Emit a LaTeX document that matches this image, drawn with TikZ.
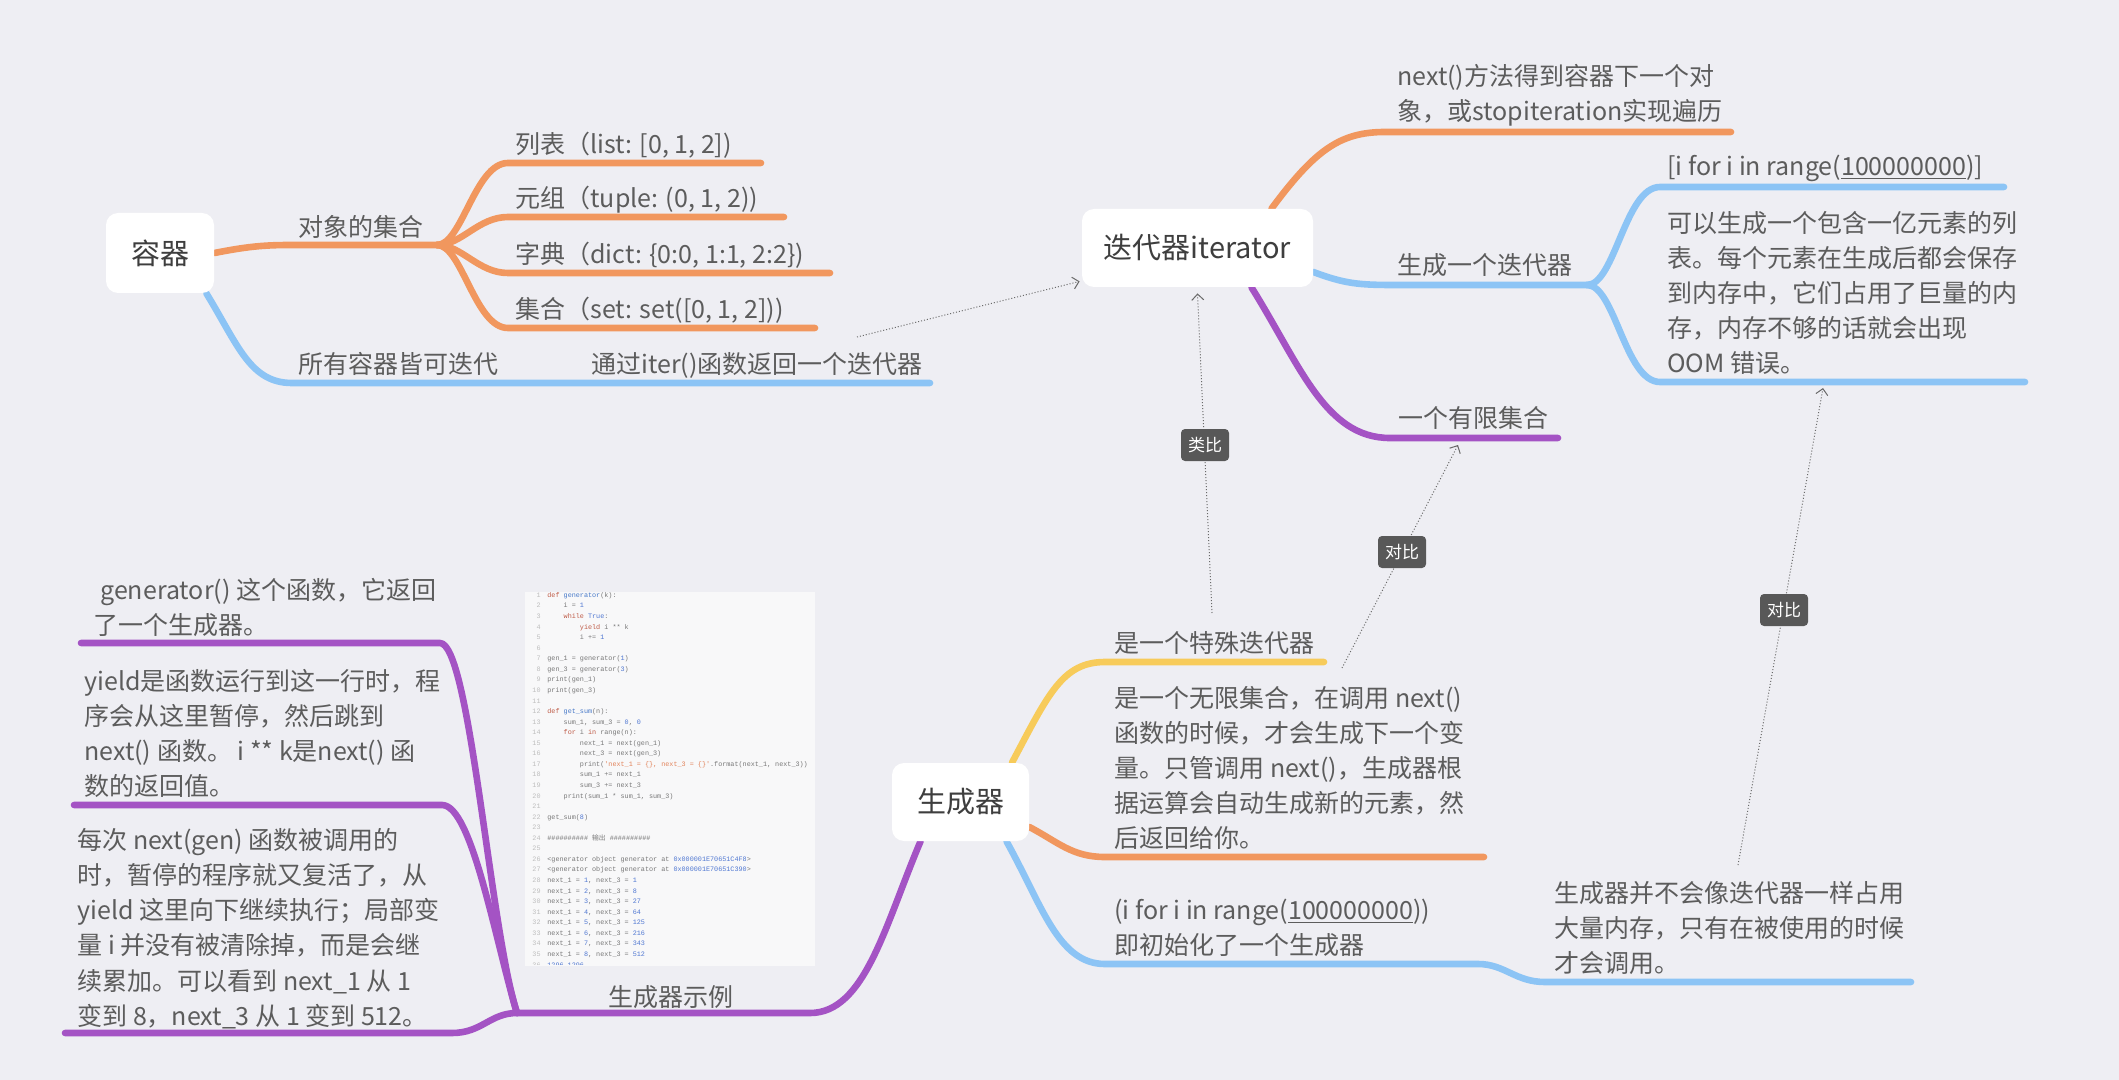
\documentclass[tikz,border=0pt]{standalone}
\usepackage{fontspec}
\setmainfont{Noto Sans CJK SC}
\newfontfamily\codefont{Liberation Mono}
\usetikzlibrary{arrows.meta}
\pgfdeclarelayer{bg}
\pgfsetlayers{bg,main}
\definecolor{bgc}{RGB}{238,238,243}
\definecolor{orc}{RGB}{241,151,94}
\definecolor{blc}{RGB}{140,196,245}
\definecolor{puc}{RGB}{164,83,196}
\definecolor{yec}{RGB}{247,203,90}
\definecolor{topicc}{RGB}{62,62,62}
\definecolor{txtc}{RGB}{92,92,92}
\definecolor{relc}{RGB}{105,105,105}
\definecolor{lblc}{RGB}{88,88,88}
\definecolor{codebg}{RGB}{248,248,249}
\definecolor{numc}{RGB}{190,190,190}
\definecolor{codec}{RGB}{120,120,120}
\definecolor{kwc}{RGB}{190,90,70}
\definecolor{fnc}{RGB}{70,120,200}
\definecolor{nmc}{RGB}{80,120,210}
\definecolor{stc}{RGB}{226,131,90}
\newcommand\kw[1]{\textcolor{kwc}{#1}}
\newcommand\fn[1]{\textcolor{fnc}{#1}}
\newcommand\nm[1]{\textcolor{nmc}{#1}}
\newcommand\st[1]{\textcolor{stc}{#1}}
\newcommand\ind[1]{\hphantom{\codefont\fontsize{3.39}{5}\selectfont #1}}
\newcommand\cl[2]{%
  \node[cnum, name=cn#1] at (541,{597.4+10.56*(#1-1)}) {#1};
  \node[ctext, name=ct#1] at (547,{597.4+10.56*(#1-1)}) {#2};}
\begin{document}
\begin{tikzpicture}[x=0.5pt,y=-0.5pt,
  topic/.style={fill=white, rounded corners=6pt, text=topicc, inner sep=0pt,
    font=\fontsize{14.5}{17}\selectfont},
  txt/.style={inner sep=0pt, anchor=west, text=txtc, align=left,
    font=\fontsize{12.5}{17.6}\selectfont},
  br/.style={line width=3.3pt, line cap=round, line join=round},
  rel/.style={densely dotted, line width=0.5pt, draw=relc,
    -{Straight Barb[length=3pt,width=6pt]}},
  lbl/.style={fill=lblc, text=white, rounded corners=2pt, inner sep=0pt,
    minimum width=24pt, minimum height=16pt, font=\fontsize{8.5}{10}\selectfont},
  cnum/.style={anchor=base east, inner sep=0pt, text=numc,
    font=\codefont\fontsize{3.39}{5}\selectfont},
  ctext/.style={anchor=base west, inner sep=0pt, text=codec,
    font=\codefont\fontsize{3.39}{5}\selectfont}]

\useasboundingbox (0,0) rectangle (2119,1080);

% ---------- main topics ----------
\node[topic, minimum width=54pt, minimum height=40pt] (rq) at (160,253) {容器};
\node[topic, minimum width=115.5pt, minimum height=39pt] (it) at (1197.5,248) {迭代器iterator};
\node[topic, minimum width=68.5pt, minimum height=39pt] (sc) at (960.5,802) {生成器};

% ---------- texts: container ----------
\node[txt] (dx) at (298,227) {对象的集合};
\node[txt] (lb) at (515,145) {列表（list: [0, 1, 2])};
\node[txt] (yz) at (515,200) {元组（tuple: (0, 1, 2))};
\node[txt] (zd) at (515,255) {字典（dict: \{0:0, 1:1, 2:2\})};
\node[txt] (jh) at (515,310) {集合（set: set([0, 1, 2]))};
\node[txt] (sy) at (298,364) {所有容器皆可迭代};
\node[txt] (tg) at (591,365) {通过iter()函数返回一个迭代器};

% ---------- texts: iterator ----------
\node[txt] (nx) at (1397,95.5) {next()方法得到容器下一个对\\象，或stopiteration实现遍历};
\node[txt] (sd) at (1397,265) {生成一个迭代器};
\node[txt] (yx) at (1398,418) {一个有限集合};
\node[txt] (lc) at (1667,168) {[i for i in range(\underline{100000000})]};
\node[txt] (ky) at (1667,293) {可以生成一个包含一亿元素的列\\表。每个元素在生成后都会保存\\到内存中，它们占用了巨量的内\\存，内存不够的话就会出现\\OOM 错误。};

% ---------- texts: generator ----------
\node[txt] (ts) at (1114,643) {是一个特殊迭代器};
\node[txt] (wx) at (1114,768) {是一个无限集合，在调用 next()\\函数的时候，才会生成下一个变\\量。只管调用 next()，生成器根\\据运算会自动生成新的元素，然\\后返回给你。};
\node[txt] (ge) at (1114,927.5) {(i for i in range(\underline{100000000}))\\即初始化了一个生成器};
\node[txt] (bh) at (1554,928) {生成器并不会像迭代器一样占用\\大量内存，只有在被使用的时候\\才会调用。};
\node[txt] (sl) at (608,997) {生成器示例};
\node[txt] (g1) at (93,607.5) {\hspace*{3.5pt}generator() 这个函数，它返回\\了一个生成器。};
\node[txt] (g2) at (84,733.5) {yield是函数运行到这一行时，程\\序会从这里暂停，然后跳到\\next() 函数。 i ** k是next() 函\\数的返回值。};
\node[txt] (g3) at (77,928.5) {每次 next(gen) 函数被调用的\\时，暂停的程序就又复活了，从\\yield 这里向下继续执行；局部变\\量 i 并没有被清除掉，而是会继\\续累加。可以看到 next\_1 从 1\\变到 8，next\_3 从 1 变到 512。};

% ---------- code panel ----------
\node[fill=codebg, inner sep=0pt, minimum width=145pt, minimum height=187pt,
  anchor=north west] (code) at (525,592) {};
\begin{scope}
\clip (525,592) rectangle (815,964);
\cl{1}{\kw{def} \fn{generator}(k):}
\cl{2}{\ind{0000}i = \nm{1}}
\cl{3}{\ind{0000}\kw{while} \nm{True}:}
\cl{4}{\ind{00000000}\kw{yield} i ** k}
\cl{5}{\ind{00000000}i += \nm{1}}
\cl{6}{}
\cl{7}{gen\_1 = generator(\nm{1})}
\cl{8}{gen\_3 = generator(\nm{3})}
\cl{9}{print(gen\_1)}
\cl{10}{print(gen\_3)}
\cl{11}{}
\cl{12}{\kw{def} \fn{get\_sum}(n):}
\cl{13}{\ind{0000}sum\_1, sum\_3 = \nm{0}, \nm{0}}
\cl{14}{\ind{0000}\kw{for} i \kw{in} range(n):}
\cl{15}{\ind{00000000}next\_1 = next(gen\_1)}
\cl{16}{\ind{00000000}next\_3 = next(gen\_3)}
\cl{17}{\ind{00000000}print(\st{'next\_1 = \{\}, next\_3 = \{\}'}.format(next\_1, next\_3))}
\cl{18}{\ind{00000000}sum\_1 += next\_1}
\cl{19}{\ind{00000000}sum\_3 += next\_3}
\cl{20}{\ind{0000}print(sum\_1 * sum\_1, sum\_3)}
\cl{21}{}
\cl{22}{get\_sum(\nm{8})}
\cl{23}{}
\cl{24}{\#\#\#\#\#\#\#\#\#\# {\rmfamily 输出} \#\#\#\#\#\#\#\#\#\#}
\cl{25}{}
\cl{26}{<generator object generator at \nm{0x000001E70651C4F8}>}
\cl{27}{<generator object generator at \nm{0x000001E70651C390}>}
\cl{28}{next\_1 = \nm{1}, next\_3 = \nm{1}}
\cl{29}{next\_1 = \nm{2}, next\_3 = \nm{8}}
\cl{30}{next\_1 = \nm{3}, next\_3 = \nm{27}}
\cl{31}{next\_1 = \nm{4}, next\_3 = \nm{64}}
\cl{32}{next\_1 = \nm{5}, next\_3 = \nm{125}}
\cl{33}{next\_1 = \nm{6}, next\_3 = \nm{216}}
\cl{34}{next\_1 = \nm{7}, next\_3 = \nm{343}}
\cl{35}{next\_1 = \nm{8}, next\_3 = \nm{512}}
\cl{36}{\nm{1296 1296}}
\end{scope}

% ---------- coordinates ----------
\coordinate (f1) at (437,245);
\coordinate (f2) at (1587,285);
\coordinate (f3) at (517,1013);
\coordinate (lbE) at (761,163);
\coordinate (yzE) at (784,217);
\coordinate (zdE) at (830,273);
\coordinate (jhE) at (815,328);
\coordinate (tgE) at (930,383);
\coordinate (nxE) at (1731,132);
\coordinate (lcE) at (2004,187);
\coordinate (kyE) at (2025,382);
\coordinate (yxE) at (1558,438);
\coordinate (tsE) at (1324,662);
\coordinate (wxE) at (1484,857);
\coordinate (bhE) at (1911,982);
\coordinate (g1E) at (81,643);
\coordinate (g2E) at (74,805);
\coordinate (g3E) at (65,1033);
\coordinate (tgS) at (857,337);
\coordinate (tsS) at (1212,613);
\coordinate (wxS) at (1342,668);
\coordinate (bhS) at (1738,865);
\coordinate (yxT) at (1458,445);
\coordinate (kyT) at (1823,388);

% ---------- branches (behind) ----------
\begin{pgfonlayer}{bg}
\fill[bgc] (0,0) rectangle (2119,1080);
% container
\draw[br, draw=orc] (rq.east) .. controls (245,247) and (262,245) .. (290,245) -- (f1);
\draw[br, draw=orc] (f1) .. controls (462,245) and (475,163) .. (508,163) -- (lbE);
\draw[br, draw=orc] (f1) .. controls (462,245) and (478,217) .. (508,217) -- (yzE);
\draw[br, draw=orc] (f1) .. controls (462,245) and (478,273) .. (508,273) -- (zdE);
\draw[br, draw=orc] (f1) .. controls (462,245) and (475,328) .. (508,328) -- (jhE);
\draw[br, draw=blc] ([xshift=-4pt]rq.south east) .. controls (238,345) and (250,383) .. (292,383) -- (tgE);
% iterator
\draw[br, draw=orc] ([xshift=37pt]it.north) .. controls (1315,150) and (1340,132) .. (1385,132) -- (nxE);
\draw[br, draw=blc] ([yshift=-12pt]it.east) .. controls (1345,284) and (1360,285) .. (1395,285) -- (f2);
\draw[br, draw=blc] (f2) .. controls (1615,285) and (1625,187) .. (1660,187) -- (lcE);
\draw[br, draw=blc] (f2) .. controls (1615,285) and (1625,382) .. (1660,382) -- (kyE);
\draw[br, draw=puc] ([xshift=27pt]it.south) .. controls (1300,365) and (1325,438) .. (1390,438) -- (yxE);
% generator
\draw[br, draw=yec] ([xshift=25.75pt]sc.north) .. controls (1048,695) and (1062,662) .. (1105,662) -- (tsE);
\draw[br, draw=orc] ([yshift=-12.5pt]sc.east) .. controls (1058,842) and (1072,857) .. (1105,857) -- (wxE);
\draw[br, draw=blc] ([xshift=23pt]sc.south) .. controls (1042,905) and (1058,964) .. (1105,964) -- (1478,964)
  .. controls (1505,964) and (1515,982) .. (1545,982) -- (bhE);
\draw[br, draw=puc] ([xshift=-20pt]sc.south) .. controls (885,925) and (865,1013) .. (810,1013) -- (f3);
\draw[br, draw=puc] (f3) .. controls (490,930) and (470,643) .. (440,643) -- (g1E);
\draw[br, draw=puc] (f3) .. controls (495,940) and (472,805) .. (442,805) -- (g2E);
\draw[br, draw=puc] (f3) .. controls (490,1013) and (482,1033) .. (452,1033) -- (g3E);
\end{pgfonlayer}

% ---------- relations ----------
\draw[rel] (tgS) -- ([shift={(-1pt,3pt)}]it.south west);
\draw[rel] (tsS) -- ([yshift=-3pt]it.south);
\draw[rel] (wxS) -- (yxT);
\draw[rel] (bhS) -- (kyT);
\node[lbl] (lb1) at (1205,445) {类比};
\node[lbl] (lb2) at (1402,552) {对比};
\node[lbl] (lb3) at (1784,610) {对比};
\end{tikzpicture}
\end{document}
